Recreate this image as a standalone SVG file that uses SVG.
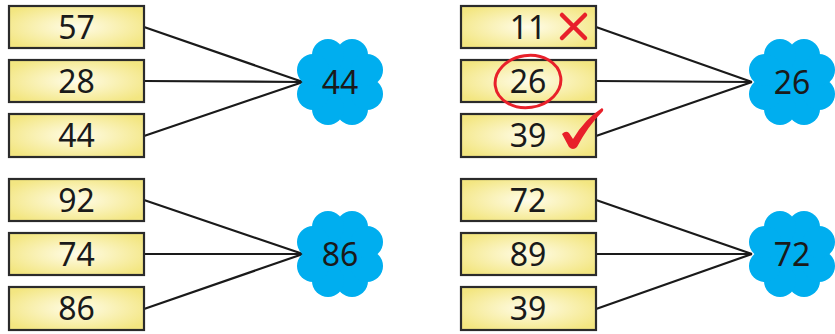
<svg xmlns="http://www.w3.org/2000/svg" width="835" height="334" viewBox="0 0 835 334">
<defs>
<radialGradient id="yg" cx="0.5" cy="0.5" r="0.6">
<stop offset="0" stop-color="#fffce8"/>
<stop offset="1" stop-color="#f3e681"/>
</radialGradient>
<g id="cloud">
<circle cx="0" cy="0" r="30"/>
<circle cx="12" cy="27" r="16"/>
<circle cx="-12" cy="27" r="16"/>
<circle cx="12" cy="-27" r="16"/>
<circle cx="-12" cy="-27" r="16"/>
<circle cx="27" cy="12" r="16"/>
<circle cx="27" cy="-12" r="16"/>
<circle cx="-27" cy="12" r="16"/>
<circle cx="-27" cy="-12" r="16"/>
</g>
</defs>
<style>
.box{fill:url(#yg);stroke:#2b2b2b;stroke-width:2.2}
.t{font-family:"Noto Sans","DejaVu Sans",sans-serif;font-size:32px;fill:#1a1a1a;text-anchor:middle}
.c{fill:#00aeef}
.ln{stroke:#1a1a1a;stroke-width:2.2;fill:none}
.red{stroke:#e8202a;fill:none;stroke-linecap:round}
</style>
<g id="connectors">
<path class="ln" d="M144 27 L303 82 M144 81 L303 82 M144 136 L303 82"/>
<path class="ln" d="M144 200 L303 254 M144 254 L303 254 M144 309 L303 254"/>
<path class="ln" d="M596 27 L752 82 M596 81 L752 82 M596 136 L752 82"/>
<path class="ln" d="M596 200 L752 254 M596 254 L752 254 M596 309 L752 254"/>
</g>
<g id="n57"><rect class="box" x="9" y="6" width="135" height="42"/><text class="t" x="76.5" y="39">57</text></g>
<g id="n28"><rect class="box" x="9" y="60" width="135" height="42"/><text class="t" x="76.5" y="93">28</text></g>
<g id="n44"><rect class="box" x="9" y="114" width="135" height="43"/><text class="t" x="76.5" y="147">44</text></g>
<g id="cloud44"><use href="#cloud" class="c" x="340" y="82"/><text class="t" x="340" y="94">44</text></g>

<g id="n92"><rect class="box" x="9" y="179" width="135" height="42"/><text class="t" x="76.5" y="212">92</text></g>
<g id="n74"><rect class="box" x="9" y="233" width="135" height="42"/><text class="t" x="76.5" y="266">74</text></g>
<g id="n86"><rect class="box" x="9" y="287" width="135" height="43"/><text class="t" x="76.5" y="320">86</text></g>
<g id="cloud86"><use href="#cloud" class="c" x="340" y="254"/><text class="t" x="340" y="266">86</text></g>

<g id="n11"><rect class="box" x="461" y="6" width="135" height="42"/><text class="t" x="528" y="39">11</text>
<path class="red" stroke-width="4.5" d="M562 15 L585 38 M585 15 L562 38"/></g>
<g id="n26"><rect class="box" x="461" y="60" width="135" height="42"/><text class="t" x="528" y="93">26</text>
<ellipse class="red" stroke-width="3" cx="528" cy="81.5" rx="33" ry="26" transform="rotate(-8 528 81.5)"/></g>
<g id="n39a"><rect class="box" x="461" y="114" width="135" height="43"/><text class="t" x="528" y="147">39</text>
<path fill="#e8202a" d="M562 134 Q566 130 569 133 L573 139 Q585 119 602 108 Q604 109 603 111 Q588 126 577 147 Q573 151 569 147 Z"/></g>
<g id="cloud26"><use href="#cloud" class="c" x="792" y="82"/><text class="t" x="792" y="94">26</text></g>

<g id="n72"><rect class="box" x="461" y="179" width="135" height="42"/><text class="t" x="528" y="212">72</text></g>
<g id="n89"><rect class="box" x="461" y="233" width="135" height="42"/><text class="t" x="528" y="266">89</text></g>
<g id="n39b"><rect class="box" x="461" y="287" width="135" height="43"/><text class="t" x="528" y="320">39</text></g>
<g id="cloud72"><use href="#cloud" class="c" x="792" y="254"/><text class="t" x="792" y="266">72</text></g>
</svg>
